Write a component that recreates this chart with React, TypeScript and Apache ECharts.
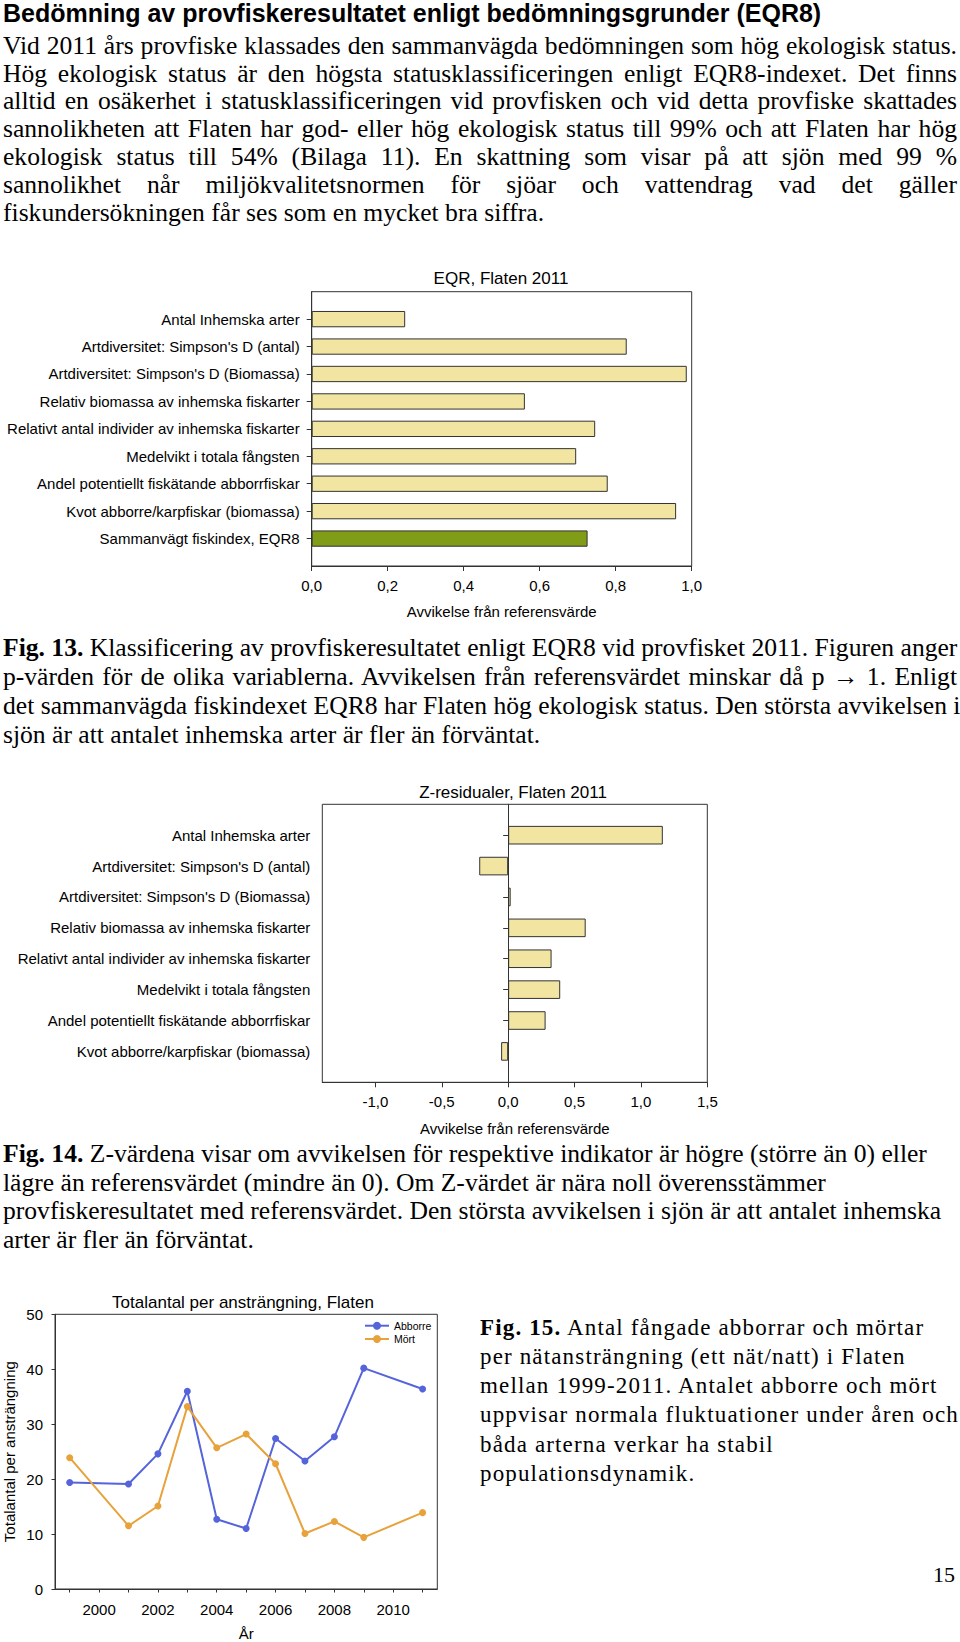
import React, { useEffect, useRef } from "react";
import * as echarts from "echarts";

// ---------- text content ----------
const heading = "Bedömning av provfiskeresultatet enligt bedömningsgrunder (EQR8)";
const introLines = [
  "Vid 2011 års provfiske klassades den sammanvägda bedömningen som hög ekologisk status.",
  "Hög ekologisk status är den högsta statusklassificeringen enligt EQR8-indexet. Det finns",
  "alltid en osäkerhet i statusklassificeringen vid provfisken och vid detta provfiske skattades",
  "sannolikheten att Flaten har god- eller hög ekologisk status till 99% och att Flaten har hög",
  "ekologisk status till 54% (Bilaga 11). En skattning som visar på att sjön med 99 %",
  "sannolikhet når miljökvalitetsnormen för sjöar och vattendrag vad det gäller",
  "fiskundersökningen får ses som en mycket bra siffra.",
];
const fig13Label = "Fig. 13.";
const fig13Lines = [
  " Klassificering av provfiskeresultatet enligt EQR8 vid provfisket 2011. Figuren anger",
  "p-värden för de olika variablerna. Avvikelsen från referensvärdet minskar då p \u2192 1. Enligt",
  "det sammanvägda fiskindexet EQR8 har Flaten hög ekologisk status. Den största avvikelsen i",
  "sjön är att antalet inhemska arter är fler än förväntat.",
];
const fig14Label = "Fig. 14.";
const fig14Lines = [
  " Z-värdena visar om avvikelsen för respektive indikator är högre (större än 0) eller",
  "lägre än referensvärdet (mindre än 0). Om Z-värdet är nära noll överensstämmer",
  "provfiskeresultatet med referensvärdet. Den största avvikelsen i sjön är att antalet inhemska",
  "arter är fler än förväntat.",
];
const fig15Label = "Fig. 15.";
const fig15Lines = [
  " Antal fångade abborrar och mörtar",
  "per nätansträngning (ett nät/natt) i Flaten",
  "mellan 1999-2011. Antalet abborre och mört",
  "uppvisar normala fluktuationer under åren och",
  "båda arterna verkar ha stabil",
  "populationsdynamik.",
];
const pageNumber = "15";

// ---------- chart data ----------
const eqrTitle = "EQR, Flaten 2011";
const eqrCategories = [
  "Antal Inhemska arter",
  "Artdiversitet: Simpson's D (antal)",
  "Artdiversitet: Simpson's D (Biomassa)",
  "Relativ biomassa av inhemska fiskarter",
  "Relativt antal individer av inhemska fiskarter",
  "Medelvikt i totala fångsten",
  "Andel potentiellt fiskätande abborrfiskar",
  "Kvot abborre/karpfiskar (biomassa)",
  "Sammanvägt fiskindex, EQR8",
];
const eqrValues = [0.246, 0.829, 0.987, 0.561, 0.746, 0.696, 0.779, 0.959, 0.726];

const zTitle = "Z-residualer, Flaten 2011";
const zCategories = [
  "Antal Inhemska arter",
  "Artdiversitet: Simpson's D (antal)",
  "Artdiversitet: Simpson's D (Biomassa)",
  "Relativ biomassa av inhemska fiskarter",
  "Relativt antal individer av inhemska fiskarter",
  "Medelvikt i totala fångsten",
  "Andel potentiellt fiskätande abborrfiskar",
  "Kvot abborre/karpfiskar (biomassa)",
];
const zValues = [1.165, -0.218, 0.019, 0.584, 0.327, 0.392, 0.282, -0.053];
const zTickValues = [-1, -0.5, 0, 0.5, 1, 1.5];
const deviationName = "Avvikelse från referensvärde";

const lineTitle = "Totalantal per ansträngning, Flaten";
const years = [1999, 2001, 2002, 2003, 2004, 2005, 2006, 2007, 2008, 2009, 2011];
const abborre = [19.4, 19.1, 24.6, 36.0, 12.7, 11.0, 27.4, 23.3, 27.7, 40.2, 36.4];
const mort = [23.9, 11.5, 15.1, 33.2, 25.7, 28.2, 22.8, 10.1, 12.3, 9.4, 13.9];
const yearLabelValues = [2000, 2002, 2004, 2006, 2008, 2010];
const yearTickValues = [1999, 2000, 2001, 2002, 2003, 2004, 2005, 2006, 2007, 2008, 2009, 2010, 2011];
const lineYName = "Totalantal per ansträngning";
const lineXName = "År";

// ---------- styles ----------
const SANS = "'Liberation Sans', Arial, sans-serif";
const SERIF = "'Liberation Serif', 'Times New Roman', serif";
const FRAME = "#333333";
const BAR_FILL = "#F2E5A2";
const BAR_OLIVE = "#819C16";
const BLUE = "#5564DA";
const ORANGE = "#E8A23B";

function comma(v: number) {
  return v.toFixed(1).replace(".", ",");
}

function TextLine(props: {
  children: React.ReactNode;
  left: number;
  width: number;
  baseline: number;
  fs: number;
  lh: number;
  justify?: boolean;
  family?: string;
  letterSpacing?: number;
  bold?: boolean;
  align?: "left" | "right";
}) {
  const fam = props.family || SERIF;
  const k = fam === SANS ? 0.3465 : 0.3375;
  const top = props.baseline - props.lh / 2 - k * props.fs;
  return (
    <div
      style={{
        position: "absolute",
        left: props.left,
        top,
        width: props.width,
        height: props.lh,
        lineHeight: props.lh + "px",
        fontSize: props.fs,
        fontFamily: fam,
        fontWeight: props.bold ? "bold" : "normal",
        whiteSpace: "nowrap",
        letterSpacing: props.letterSpacing ? props.letterSpacing + "px" : undefined,
        textAlign: props.justify ? "justify" : props.align || "left",
        textAlignLast: props.justify ? "justify" : props.align || "left",
        color: "#000",
      } as React.CSSProperties}
    >
      {props.children}
    </div>
  );
}

function Paragraph(props: {
  lines: string[];
  label?: string;
  left: number;
  width: number;
  baseline: number;
  fs: number;
  lh: number;
  justifyAllButLast?: boolean;
  letterSpacing?: number;
}) {
  return (
    <>
      {props.lines.map((t, i) => (
        <TextLine
          key={i}
          left={props.left}
          width={props.width}
          baseline={props.baseline + i * props.lh}
          fs={props.fs}
          lh={props.lh}
          letterSpacing={props.letterSpacing}
          justify={props.justifyAllButLast && i < props.lines.length - 1}
        >
          {i === 0 && props.label ? <b>{props.label}</b> : null}
          {t}
        </TextLine>
      ))}
    </>
  );
}

export default function App() {
  const ref = useRef<HTMLDivElement | null>(null);

  useEffect(() => {
    if (!ref.current) return;
    const chart = echarts.init(ref.current, undefined, { renderer: "svg" });

    const padCats = (arr: string[]) => [" ", ...arr, "  "];
    const eqrCats = padCats(eqrCategories);
    const zCats = padCats(zCategories);

    const axisText = { fontSize: 15, color: "#000", fontFamily: SANS };
    const lineStyle = { color: FRAME, width: 1 };

    const option: any = {
      animation: false,
      textStyle: { fontFamily: SANS },
      grid: [
        { left: 311.7, top: 291.7, width: 380, height: 274.3, show: true, borderColor: FRAME, borderWidth: 1, backgroundColor: "transparent" },
        { left: 322.3, top: 804.3, width: 385, height: 278, show: true, borderColor: FRAME, borderWidth: 1, backgroundColor: "transparent" },
        { left: 55, top: 1314.3, width: 382.3, height: 274.7, show: true, borderColor: FRAME, borderWidth: 1, backgroundColor: "transparent" },
      ],
      xAxis: [
        {
          gridIndex: 0,
          type: "value",
          min: 0,
          max: 1,
          interval: 0.2,
          axisLine: { show: true, lineStyle },
          axisTick: { show: true, length: 5, lineStyle },
          splitLine: { show: false },
          axisLabel: { ...axisText, margin: 12, formatter: (v: number) => comma(v) },
          name: deviationName,
          nameLocation: "middle",
          nameGap: 38,
          nameTextStyle: axisText,
        },
        {
          gridIndex: 1,
          type: "value",
          min: -1.4,
          max: 1.5,
          axisLine: { show: true, lineStyle },
          axisTick: { show: true, length: 5, lineStyle, customValues: zTickValues },
          splitLine: { show: false },
          axisLabel: { ...axisText, margin: 12, customValues: zTickValues, formatter: (v: number) => comma(v) },
          name: deviationName,
          nameLocation: "middle",
          nameGap: 39,
          nameTextStyle: axisText,
        },
        {
          gridIndex: 2,
          type: "value",
          min: 1998.5,
          max: 2011.5,
          axisLine: { show: true, lineStyle },
          axisTick: { show: true, length: 3.5, lineStyle, customValues: yearTickValues },
          splitLine: { show: false },
          axisLabel: { ...axisText, margin: 12.5, customValues: yearLabelValues, formatter: (v: number) => String(v) },
          name: lineXName,
          nameLocation: "middle",
          nameGap: 37,
          nameTextStyle: axisText,
        },
      ],
      yAxis: [
        {
          gridIndex: 0,
          type: "category",
          inverse: true,
          boundaryGap: false,
          data: eqrCats,
          axisLine: { show: true, lineStyle },
          axisTick: { show: true, length: 5, lineStyle, interval: (i: number) => i > 0 && i < eqrCats.length - 1 },
          axisLabel: { ...axisText, margin: 12, interval: 0 },
          splitLine: { show: false },
        },
        {
          gridIndex: 1,
          type: "category",
          inverse: true,
          boundaryGap: false,
          data: zCats,
          axisLine: { show: true, lineStyle },
          axisTick: { show: true, length: 5, lineStyle, interval: (i: number) => i > 0 && i < zCats.length - 1 },
          axisLabel: { ...axisText, margin: 12, interval: 0 },
          splitLine: { show: false },
        },
        {
          gridIndex: 2,
          type: "value",
          min: 0,
          max: 50,
          interval: 10,
          axisLine: { show: true, lineStyle },
          axisTick: { show: true, length: 3.5, lineStyle },
          axisLabel: { ...axisText, margin: 12 },
          splitLine: { show: false },
          name: lineYName,
          nameLocation: "middle",
          nameGap: 38,
          nameTextStyle: axisText,
        },
      ],
      legend: {
        data: ["Abborre", "Mört"],
        orient: "vertical",
        left: 364,
        top: 1319.7,
        padding: 0,
        itemWidth: 24,
        itemHeight: 10,
        itemGap: 1.3,
        textStyle: { fontSize: 10.5, color: "#000", fontFamily: SANS, lineHeight: 12 },
        selectedMode: false,
      },
      series: [
        {
          type: "bar",
          xAxisIndex: 0,
          yAxisIndex: 0,
          barWidth: 16.3,
          silent: true,
          itemStyle: { color: BAR_FILL, borderColor: FRAME, borderWidth: 1 },
          data: [
            "-",
            ...eqrValues.map((v, i) =>
              i === eqrValues.length - 1 ? { value: v, itemStyle: { color: BAR_OLIVE } } : v
            ),
            "-",
          ],
        },
        {
          type: "bar",
          xAxisIndex: 1,
          yAxisIndex: 1,
          barWidth: 18.6,
          silent: true,
          itemStyle: { color: BAR_FILL, borderColor: FRAME, borderWidth: 1 },
          data: ["-", ...zValues, "-"],
          markLine: {
            silent: true,
            symbol: ["none", "none"],
            label: { show: false },
            lineStyle: { color: FRAME, width: 1, type: "solid" },
            data: [{ xAxis: 0 }],
          },
        },
        {
          type: "line",
          name: "Abborre",
          xAxisIndex: 2,
          yAxisIndex: 2,
          data: years.map((y, i) => [y, abborre[i]]),
          symbol: "circle",
          symbolSize: 7,
          lineStyle: { color: BLUE, width: 2 },
          itemStyle: { color: BLUE },
          silent: true,
        },
        {
          type: "line",
          name: "Mört",
          xAxisIndex: 2,
          yAxisIndex: 2,
          data: years.map((y, i) => [y, mort[i]]),
          symbol: "circle",
          symbolSize: 7,
          lineStyle: { color: ORANGE, width: 2 },
          itemStyle: { color: ORANGE },
          silent: true,
        },
      ],
      graphic: [
        { type: "text", x: 501, y: 278, style: { text: eqrTitle, fill: "#000", font: `17px ${SANS}`, align: "center", verticalAlign: "middle", textAlign: "center", textVerticalAlign: "middle" } },
        { type: "text", x: 513, y: 792.5, style: { text: zTitle, fill: "#000", font: `17px ${SANS}`, align: "center", verticalAlign: "middle", textAlign: "center", textVerticalAlign: "middle" } },
        { type: "text", x: 243, y: 1302.3, style: { text: lineTitle, fill: "#000", font: `17px ${SANS}`, align: "center", verticalAlign: "middle", textAlign: "center", textVerticalAlign: "middle" } },
      ],
    };

    chart.setOption(option);
    return () => {
      chart.dispose();
    };
  }, []);

  return (
    <div style={{ position: "relative", width: 960, height: 1642, overflow: "hidden", background: "#fff" }}>
      <style>{`body{margin:0;background:#fff;}`}</style>
      <div ref={ref} style={{ position: "absolute", left: 0, top: 0, width: 960, height: 1642 }} />
      <TextLine left={3} width={954} baseline={21.5} fs={25} lh={24} family={SANS} bold>
        {heading}
      </TextLine>
      <Paragraph lines={introLines} left={3} width={954} baseline={54.3} fs={25.6} lh={27.8} justifyAllButLast />
      <Paragraph lines={fig13Lines} label={fig13Label} left={3} width={954} baseline={656.5} fs={25.6} lh={29} justifyAllButLast />
      <Paragraph lines={fig14Lines} label={fig14Label} left={3} width={954} baseline={1163} fs={25.6} lh={28.7} />
      <Paragraph lines={fig15Lines} label={fig15Label} left={480} width={478} baseline={1335} fs={23} lh={29.3} letterSpacing={1.15} />
      <TextLine left={880} width={75} baseline={1582.7} fs={22} lh={22} align="right">
        {pageNumber}
      </TextLine>
    </div>
  );
}
